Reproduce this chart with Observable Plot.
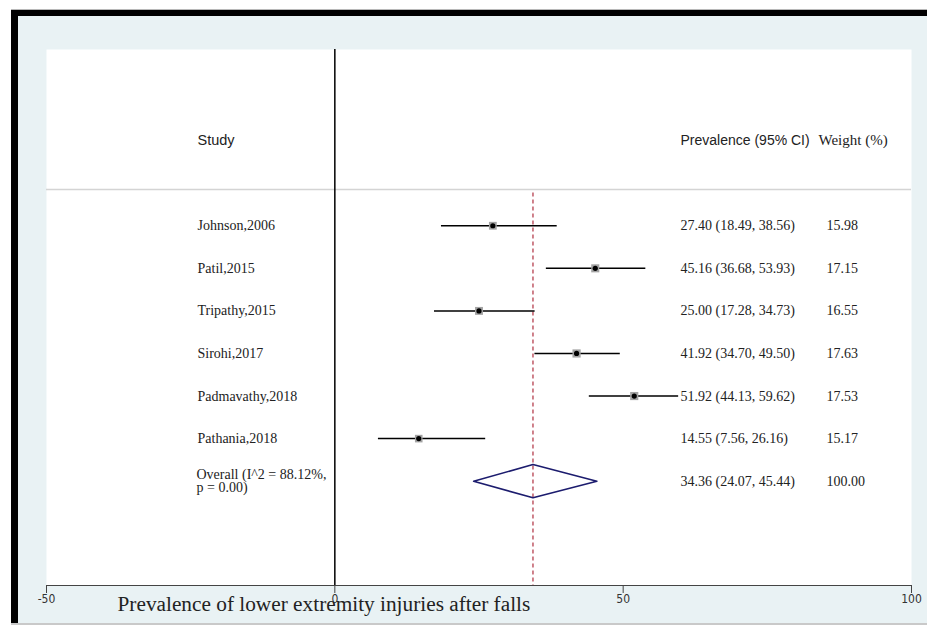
<!DOCTYPE html>
<html>
<head>
<meta charset="utf-8">
<script src="https://cdn.jsdelivr.net/npm/d3@7"></script>
<script src="https://cdn.jsdelivr.net/npm/@observablehq/plot@0.6"></script>
<style>
  html, body { margin: 0; padding: 0; background: #ffffff; }
  #wrap { position: relative; width: 927px; height: 630px; overflow: hidden; }
  .deco { position: absolute; }
  #chart { position: absolute; left: 0; top: 0; }
</style>
</head>
<body>
<div id="wrap">
  <div class="deco" style="left:18px;top:16px;width:909px;height:607px;background:#e9f2f4;"></div>
  <div class="deco" style="left:11px;top:9px;width:916px;height:1px;background:#b8b8b8;"></div>
  <div class="deco" style="left:11px;top:10px;width:916px;height:6px;background:#000;"></div>
  <div class="deco" style="left:11px;top:10px;width:7px;height:613px;background:#000;"></div>
  <div class="deco" style="left:11px;top:623px;width:916px;height:2px;background:#c9c9c9;"></div>
  <div id="chart"></div>
</div>
<script>
// ---- data ----
const studies = ["Johnson,2006", "Patil,2015", "Tripathy,2015", "Sirohi,2017", "Padmavathy,2018", "Pathania,2018"];
const estimates = [27.40, 45.16, 25.00, 41.92, 51.92, 14.55];
const lowerCI = [18.49, 36.68, 17.28, 34.70, 44.13, 7.56];
const upperCI = [38.56, 53.93, 34.73, 49.50, 59.62, 26.16];
const weights = [15.98, 17.15, 16.55, 17.63, 17.53, 15.17];
const overallEst = 34.36, overallLo = 24.07, overallHi = 45.44, overallW = 100.00;
const overallLabel = "Overall (I^2 = 88.12%,\np = 0.00)";
const headers = ["Study", "Prevalence (95% CI)", "Weight (%)"];
const xTicks = [-50, 0, 50, 100];
const xTitle = "Prevalence of lower extremity injuries after falls";

// ---- layout helpers ----
const f2 = v => v.toFixed(2);
const rows = studies.map((s, i) => ({
  study: s, est: estimates[i], lo: lowerCI[i], hi: upperCI[i], w: weights[i], row: i + 2,
  txt: `${f2(estimates[i])} (${f2(lowerCI[i])}, ${f2(upperCI[i])})`, wtxt: f2(weights[i])
}));
const overallRow = studies.length + 2;
const overall = [{ est: overallEst, lo: overallLo, hi: overallHi, row: overallRow,
  txt: `${f2(overallEst)} (${f2(overallLo)}, ${f2(overallHi)})`, wtxt: f2(overallW), label: overallLabel }];
const dh = 0.39;
const diamond = [
  { x: overallLo, y: overallRow }, { x: overallEst, y: overallRow - dh },
  { x: overallHi, y: overallRow }, { x: overallEst, y: overallRow + dh },
  { x: overallLo, y: overallRow }
];
const sepRow = 1.15;
const yTop = -2.14, yBottom = 10.45;

const W = 927, H = 630, mL = 46, mR = 16, mT = 49, mB = 45;
const serif = "'Liberation Serif', 'Times New Roman', serif";
const sans = "'Liberation Sans', Arial, sans-serif";

const plot = Plot.plot({
  width: W, height: H,
  marginLeft: mL, marginRight: mR, marginTop: mT, marginBottom: mB,
  style: { background: "transparent", fontFamily: serif, overflow: "visible" },
  x: { domain: [-50, 100] },
  y: { domain: [yTop, yBottom], reverse: true, axis: null },
  marks: [
    Plot.frame({ fill: "white", stroke: null }),
    Plot.ruleY([sepRow], { stroke: "#d4d4d4", strokeWidth: 1.5 }),
    Plot.ruleX([overallEst], { y1: sepRow + 0.08, y2: yBottom, stroke: "#a81c2e", strokeWidth: 1.1, strokeDasharray: "4,3" }),
    Plot.ruleX([0], { stroke: "#000", strokeWidth: 1.5 }),
    Plot.ruleY(rows, { x1: "lo", x2: "hi", y: "row", stroke: "#000", strokeWidth: 1.5 }),
    Plot.dot(rows, { x: "est", y: "row", r: "w", symbol: "square", fill: "#a3a3a3", stroke: null }),
    Plot.dot(rows, { x: "est", y: "row", r: 2.6, fill: "#000", stroke: null }),
    Plot.line(diamond, { x: "x", y: "y", stroke: "#1c1c6e", strokeWidth: 1.6 }),
    // headers
    Plot.text([headers[0]], { y: 0, frameAnchor: "left", dx: 151, textAnchor: "start", fontFamily: sans, fontSize: 14.5, fill: "#222" }),
    Plot.text([headers[1]], { y: 0, frameAnchor: "left", dx: 634, textAnchor: "start", fontFamily: sans, fontSize: 14, fill: "#222" }),
    Plot.text([headers[2]], { y: 0, frameAnchor: "left", dx: 772, textAnchor: "start", fontFamily: serif, fontSize: 15, fill: "#222" }),
    // study rows
    Plot.text(rows, { y: "row", text: "study", frameAnchor: "left", dx: 151, textAnchor: "start", fontSize: 14, fill: "#222" }),
    Plot.text(rows, { y: "row", text: "txt", frameAnchor: "left", dx: 634, textAnchor: "start", fontSize: 14, fill: "#222" }),
    Plot.text(rows, { y: "row", text: "wtxt", frameAnchor: "left", dx: 780, textAnchor: "start", fontSize: 14, fill: "#222" }),
    // overall
    Plot.text(overall, { y: "row", text: "label", frameAnchor: "left", dx: 150, textAnchor: "start", fontSize: 14, lineHeight: 0.95, fill: "#222" }),
    Plot.text(overall, { y: "row", text: "txt", frameAnchor: "left", dx: 634, textAnchor: "start", fontSize: 14, fill: "#222" }),
    Plot.text(overall, { y: "row", text: "wtxt", frameAnchor: "left", dx: 780, textAnchor: "start", fontSize: 14, fill: "#222" }),
    // axis
    Plot.frame({ anchor: "bottom", stroke: "#444", strokeWidth: 1 }),
    Plot.axisX({ ticks: xTicks, tickSize: 8, tickPadding: 1, tickFormat: d => String(d), fontSize: 12,
      fontFamily: "'Liberation Sans Narrow', 'DejaVu Sans Condensed', 'Liberation Sans', sans-serif", stroke: "#444", fill: "#333", label: null }),
    Plot.text([xTitle], { frameAnchor: "bottom-left", dx: 71, dy: 25, textAnchor: "start", fontFamily: serif, fontSize: 21.3, fill: "#222" })
  ],
  r: { type: "sqrt", domain: [0, 100], range: [0, 11] }
});
document.getElementById("chart").appendChild(plot);
</script>
</body>
</html>
